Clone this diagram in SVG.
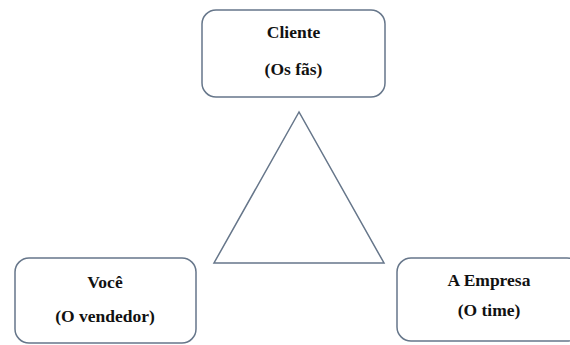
<svg xmlns="http://www.w3.org/2000/svg" width="570" height="345" viewBox="0 0 570 345">
<style>
.box{fill:#ffffff;stroke:#66768a;stroke-width:1.5}
.tri{fill:none;stroke:#66768a;stroke-width:1.5;stroke-linejoin:miter}
.t{font-family:'Liberation Serif','Times New Roman',Times,serif;font-weight:bold;font-size:17.5px;fill:#111111;text-anchor:middle}
</style>
<rect width="570" height="345" fill="#ffffff"/>
<g id="connectors">
<polygon class="tri" points="299,112 214,263 384,263"/>
</g>
<g id="cliente">
<rect class="box" x="202" y="10" width="183" height="87" rx="14"/>
<text class="t" x="293.5" y="38">Cliente</text>
<text class="t" x="293.5" y="75">(Os fãs)</text>
</g>
<g id="voce">
<rect class="box" x="15" y="258" width="181" height="85" rx="14"/>
<text class="t" x="105" y="288">Você</text>
<text class="t" x="105" y="322">(O vendedor)</text>
</g>
<g id="empresa">
<rect class="box" x="397" y="258" width="184" height="83" rx="14"/>
<text class="t" x="489" y="286">A Empresa</text>
<text class="t" x="489" y="316">(O time)</text>
</g>
</svg>
